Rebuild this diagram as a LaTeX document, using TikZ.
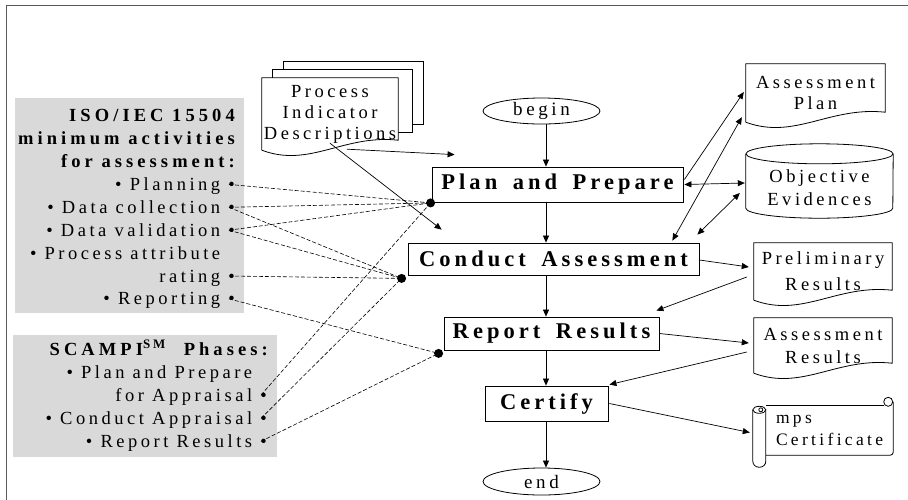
\documentclass[tikz,border=0pt]{standalone}
\usepackage{fontspec}
\usetikzlibrary{arrows.meta,calc,backgrounds,shapes.geometric}

\newfontfamily\lblfont{Liberation Serif}[LetterSpace=19]
\newfontfamily\headfont{Liberation Serif}[LetterSpace=22]
\newfontfamily\stepfont{Liberation Serif}[LetterSpace=18,WordSpace=1.6]

\tikzset{
  stepbox/.style={draw, line width=0.8pt, inner sep=0pt,
    font=\stepfont\bfseries\fontsize{22.5}{26}\selectfont},
  terminal/.style={draw, ellipse, line width=0.8pt, inner sep=0pt,
    minimum width=117pt, minimum height=26pt,
    font=\lblfont\fontsize{19}{22}\selectfont},
  paper/.style={inner sep=0pt, align=center,
    font=\lblfont\fontsize{18.5}{23}\selectfont},
  pageline/.style={draw, line width=0.8pt},
  listline/.style={anchor=base east, inner sep=0pt,
    font=\lblfont\fontsize{18.5}{22}\selectfont},
  listhead/.style={listline, font=\headfont\bfseries\fontsize{18.5}{22}\selectfont},
  panel/.style={fill=black!15},
  flow/.style={-{Triangle[length=7pt,width=6pt]}, line width=0.7pt},
  twoway/.style={{Triangle[length=7pt,width=6pt]}-{Triangle[length=7pt,width=6pt]}, line width=0.7pt},
  map/.style={dash pattern=on 4pt off 2pt, line width=0.6pt},
}

% document outline with the wavy lower edge
\newcommand\paperedge[2][]{%
  \draw[pageline,#1] (#2.south west) -- (#2.north west) -- (#2.north east)
    -- ($(#2.south east)+(0,-10)$)
    .. controls ($(#2.south west)!0.6!(#2.south east)+(0,-16)$)
    and ($(#2.south west)!0.35!(#2.south east)+(0,18)$) .. (#2.south west);}

\begin{document}
\begin{tikzpicture}[x=1pt,y=-1pt]
\useasboundingbox (0,0) rectangle (908,499);

% frame
\draw[black!65, line width=1pt] (912,5) -| (6,503);

% grey panels
\fill[panel] (15,98) rectangle (244,313);
\fill[panel] (13,335) rectangle (277,457);

% ISO/IEC 15504 list
\node[listhead] (iso)    at (235,121.7) {ISO/IEC 15504};
\node[listhead] (isomin) at (235,144.6) {minimum activities};
\node[listhead] (isofor) at (235,167.5) {for assessment:};
\node[listline] (plan)   at (235,190.4) {• Planning •};
\node[listline] (coll)   at (235,213.3) {• Data collection •};
\node[listline] (valid)  at (235,236.2) {• Data validation •};
\node[listline] (attr)   at (235,259.1) {• Process attribute\phantom{ •}};
\node[listline] (rate)   at (235,282.0) {rating •};
\node[listline] (rep)    at (235,304.9) {• Reporting •};

% SCAMPI list
\node[listhead] (scampi) at (268,355.0) {SCAMPI\textsuperscript{SM}\hspace{0.5em} Phases:};
\node[listline] (ph1)    at (267,378.3) {• Plan and Prepare\phantom{ •}};
\node[listline] (ph1b)   at (267,401.0) {for Appraisal •};
\node[listline] (ph2)    at (267,424.3) {• Conduct Appraisal •};
\node[listline] (ph3)    at (267,447.3) {• Report Results •};

% main flow
\node[terminal] (begin) at (541.5,111) {begin};
\node[stepbox, minimum width=251pt, minimum height=35pt] (pp)   at (557.5,184.5) {Plan and Prepare};
\node[stepbox, minimum width=291pt, minimum height=32pt] (ca)   at (553.5,259)   {Conduct Assessment};
\node[stepbox, minimum width=215pt, minimum height=33pt] (rr)   at (551.5,333.5) {Report Results};
\node[stepbox, minimum width=123pt, minimum height=35pt] (cert) at (546.5,403.5) {Certify};
\node[terminal, minimum height=27pt] (end) at (541.5,481.5) {end};

\coordinate (spine) at (546,0);
\draw[flow] (begin.south -| spine) -- (pp.north -| spine);
\draw[flow] (pp.south -| spine) -- (ca.north -| spine);
\draw[flow] (ca.south -| spine) -- (rr.north -| spine);
\draw[flow] (rr.south -| spine) -- (cert.north -| spine);
\draw[flow] (cert.south -| spine) -- (end.north -| spine);

% documents and stores
\node[paper, minimum width=136pt, minimum height=72pt] (pid) at (330,114) {Process\\[-2pt]Indicator\\[-2pt]Descriptions};
\begin{scope}[on background layer]
  \foreach \dx/\dy in {22/16, 11/8}
    \draw[pageline, fill=white] ($(pid.north west)+(\dx,-\dy)$) rectangle ($(pid.south east)+(\dx+3,-\dy-10)$);
  \paperedge[fill=white]{pid}
\end{scope}

\node[paper, minimum width=139pt, minimum height=58pt] (aplan) at (815.5,93) {Assessment\\[-2pt]Plan};
\paperedge{aplan}

\node[paper, minimum width=147pt, minimum height=54pt] (evid) at (819.5,188) {Objective\\Evidences};
\draw[pageline] ($(evid.north west)+(0,-7)$) -- ($(evid.south west)+(0,-7)$)
  arc[start angle=180, end angle=0, x radius=73.5, y radius=10] -- ($(evid.north east)+(0,-7)$);
\draw[pageline] ($(evid.north)+(0,-7)$) ellipse [x radius=73.5, y radius=10];

\node[paper, minimum width=138pt, minimum height=57pt] (prelim) at (823,271.5) {Preliminary\\[3pt]Results};
\paperedge{prelim}

\node[paper, minimum width=138pt, minimum height=55pt] (ares) at (823,345.5) {Assessment\\Results};
\paperedge{ares}

\node[paper, minimum width=127pt, minimum height=49pt, text width=107pt, inner xsep=10pt,
  align=left, font=\lblfont\fontsize{17.5}{21.7}\selectfont] (mps) at (829.5,430.5) {mps\\Certificate};
\draw[pageline] (mps.north west) -- ($(mps.north east)+(-9,0)$);
\draw[pageline] ($(mps.north east)+(-5,-4)$) circle (4.5);
\draw[pageline, rounded corners=3pt] ($(mps.north east)+(0,-4)$) -- (mps.south east) -- (mps.south west);
\draw[pageline, rounded corners=6pt] ($(mps.north west)+(0,4)$) -- ($(mps.south west)+(0,12)$)
  -- ($(mps.south west)+(-13,12)$) -- ($(mps.north west)+(-13,4)$);
\draw[pageline] ($(mps.north west)+(-6.5,4)$) ellipse [x radius=6.5, y radius=3.5];
\draw[pageline] ($(mps.north west)+(-5,4)$) circle (2);

% inputs and outputs
\draw[flow] ($(pid.south)+(17,-1)$) -- ($(pp.north west)+(23,-12)$);
\draw[flow] ($(pid.south)+(0,-7)$) -- ($(ca.north west)+(34,-13)$);
\draw[flow] ($(pp.east)+(1,-5)$) -- ($(aplan.west)+(-2,-1)$);
\draw[twoway] ($(pp.east)+(1,0)$) -- ($(evid.west)+(-1,-5)$);
\draw[twoway] ($(ca.north east)+(-27,-2)$) -- ($(aplan.south west)+(-4,-5)$);
\draw[twoway] ($(ca.north east)+(-2,-8)$) -- ($(evid.west)+(-6,5)$);
\draw[flow] ($(ca.east)+(0,1)$) -- ($(prelim.west)+(-5,-4.5)$);
\draw[flow] ($(prelim.west)+(-7,5.5)$) -- ($(rr.north east)+(-3,-6)$);
\draw[flow] (rr.east) -- ($(ares.west)+(-5,-2.5)$);
\draw[flow] ($(ares.west)+(-7,6.5)$) -- ($(cert.north east)+(1,-1)$);
\draw[flow] ($(cert.east)+(1,0)$) -- ($(mps.west)+(-16,2)$);

% mapping of the standard activities onto the steps
\coordinate (ppdot) at ($(pp.south west)+(-1,0.5)$);
\coordinate (cadot) at ($(ca.south west)+(-6,3)$);
\coordinate (rrdot) at ($(rr.south west)+(-5,3)$);
\foreach \src/\dst in {plan/ppdot, coll/ppdot, coll/cadot, valid/ppdot, valid/cadot,
    rate/cadot, rep/rrdot, ph1b/ppdot, ph2/cadot, ph3/rrdot}
  \draw[map] ($(\src.base east)+(-6,-6)$) -- (\dst);
\foreach \d in {ppdot, cadot, rrdot}
  \fill (\d) circle (4.5);
\end{tikzpicture}
\end{document}
